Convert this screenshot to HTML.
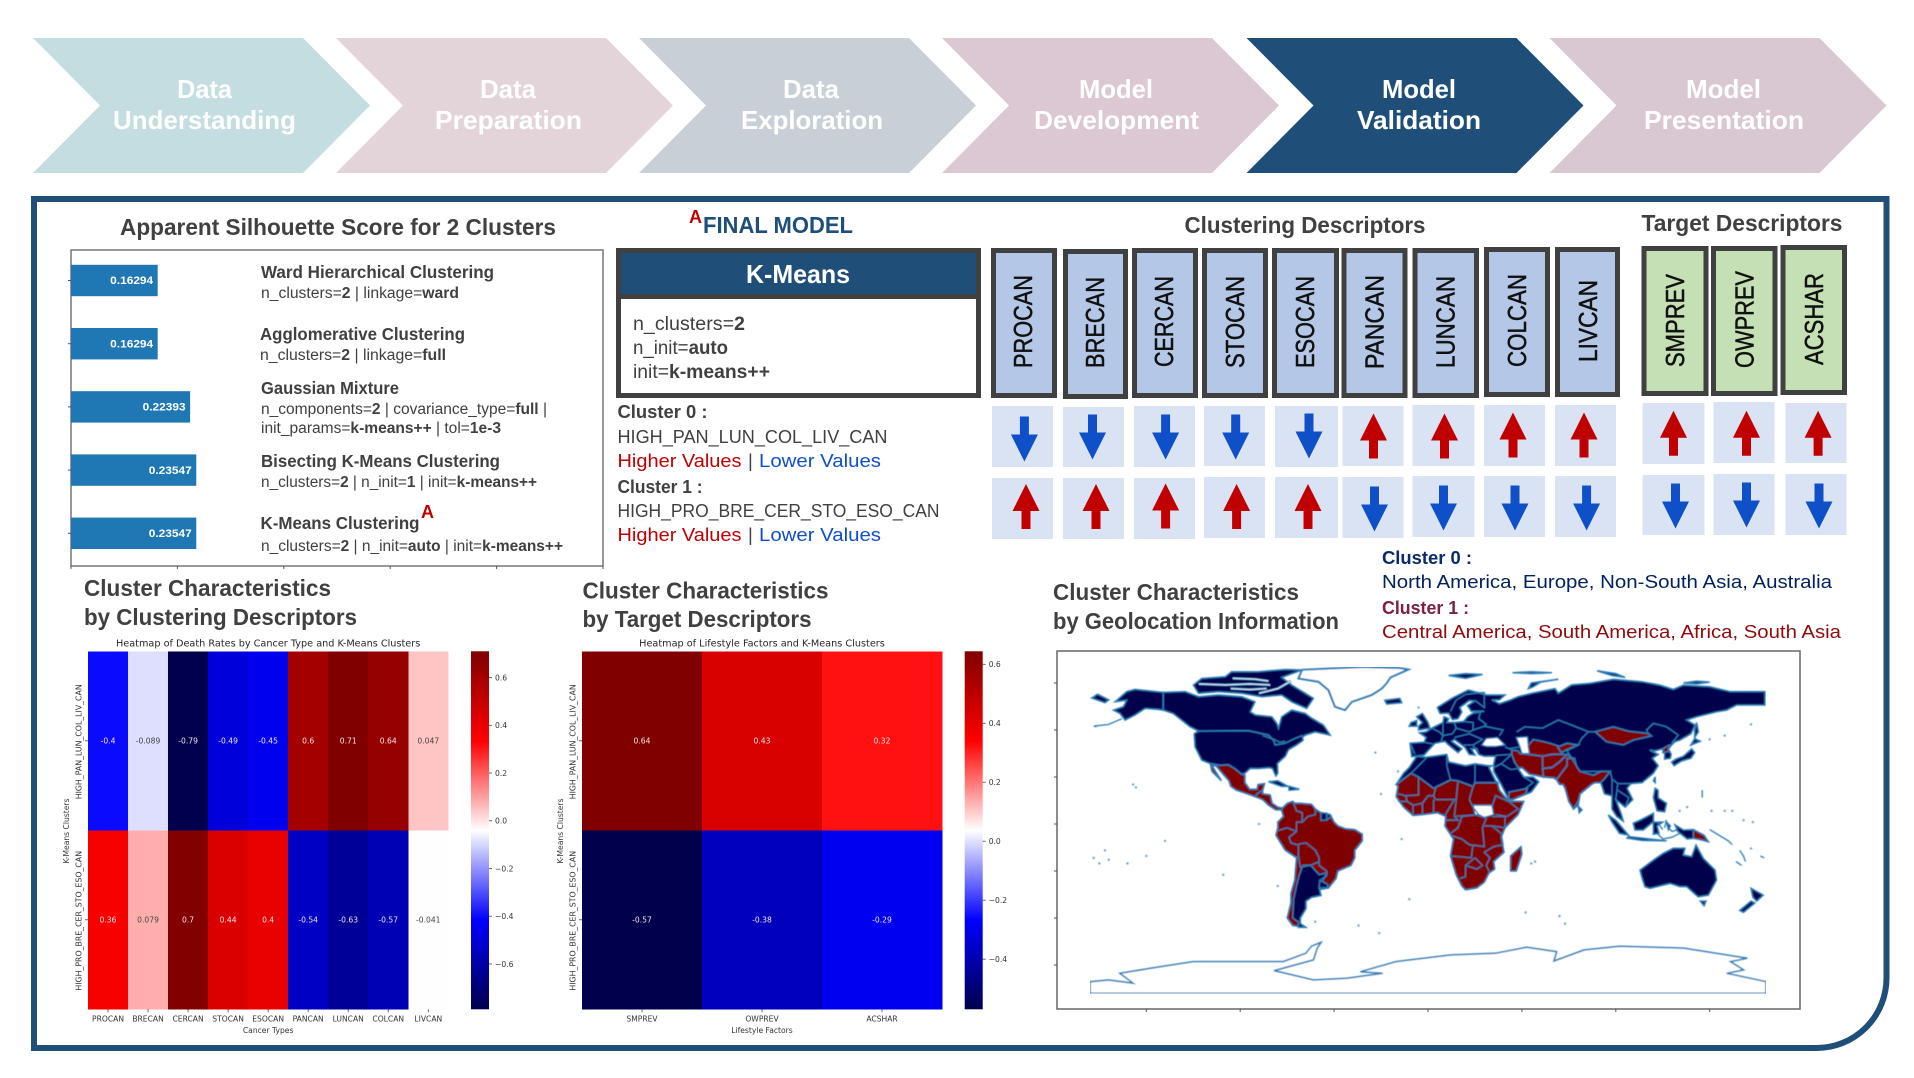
<!DOCTYPE html>
<html lang="en">
<head>
<meta charset="utf-8">
<title>K-Means Cluster Model Validation</title>
<style>
html,body{margin:0;padding:0;background:#fff;width:1914px;height:1078px;overflow:hidden}
svg{display:block}
text{font-family:"Liberation Sans",sans-serif;fill:#404040}
.b{font-weight:700}
.step{font-size:26px;font-weight:700;fill:#fff}
.h{font-size:23px;font-weight:700}
.m{font-size:17.5px;font-weight:700}
.p{font-size:15.5px}
.k{font-size:19px}
.c{font-size:18.5px}
.red{fill:#c00000}
.blue{fill:#0f4fc8}
.d{font-size:26px;fill:#111;stroke:#111;stroke-width:.5px}
.mpl{font-family:"DejaVu Sans",sans-serif}
</style>
</head>
<body>
<svg id="canvas" xmlns="http://www.w3.org/2000/svg" width="1914" height="1078" viewBox="0 0 1914 1078">
<defs>
<polygon id="arrow-down" points="-4.5,-22.5 4.5,-22.5 4.5,-4.5 13.5,-4.5 0,22.5 -13.5,-4.5 -4.5,-4.5" fill="#0f4fc8"/>
<polygon id="arrow-up" points="-4.5,22.5 4.5,22.5 4.5,4.5 13.5,4.5 0,-22.5 -13.5,4.5 -4.5,4.5" fill="#c00000"/>
<filter id="soften" x="0" y="0" width="100%" height="100%"><feGaussianBlur stdDeviation="0.55"/></filter>
</defs>

<!-- process chevrons -->
<g>
<g><polygon points="33,38 303,38 370,105.5 303,173 33,173 100,105.5" fill="#c3dde0"/>
<text class="step" x="177" y="98" textLength="55" lengthAdjust="spacingAndGlyphs">Data</text><text class="step" x="113" y="129" textLength="183" lengthAdjust="spacingAndGlyphs">Understanding</text></g>
<g><polygon points="336,38 606,38 673,105.5 606,173 336,173 403,105.5" fill="#e3d4da"/>
<text class="step" x="480" y="98" textLength="56" lengthAdjust="spacingAndGlyphs">Data</text><text class="step" x="435" y="129" textLength="147" lengthAdjust="spacingAndGlyphs">Preparation</text></g>
<g><polygon points="639,38 909,38 976,105.5 909,173 639,173 706,105.5" fill="#c9cfd6"/>
<text class="step" x="783" y="98" textLength="56" lengthAdjust="spacingAndGlyphs">Data</text><text class="step" x="741" y="129" textLength="142" lengthAdjust="spacingAndGlyphs">Exploration</text></g>
<g><polygon points="942,38 1212,38 1279,105.5 1212,173 942,173 1009,105.5" fill="#dcc8d2"/>
<text class="step" x="1079" y="98" textLength="74" lengthAdjust="spacingAndGlyphs">Model</text><text class="step" x="1034" y="129" textLength="165" lengthAdjust="spacingAndGlyphs">Development</text></g>
<g><polygon points="1246.5,38 1516.5,38 1583.5,105.5 1516.5,173 1246.5,173 1313.5,105.5" fill="#1f4e79"/>
<text class="step" x="1382" y="98" textLength="74" lengthAdjust="spacingAndGlyphs">Model</text><text class="step" x="1357" y="129" textLength="124" lengthAdjust="spacingAndGlyphs">Validation</text></g>
<g><polygon points="1549.5,38 1819.5,38 1886.5,105.5 1819.5,173 1549.5,173 1616.5,105.5" fill="#d9c8d2"/>
<text class="step" x="1686" y="98" textLength="75" lengthAdjust="spacingAndGlyphs">Model</text><text class="step" x="1644" y="129" textLength="160" lengthAdjust="spacingAndGlyphs">Presentation</text></g>
</g>

<!-- main panel -->
<path d="M34,199 H1886.5 V978 A70,70 0 0 1 1816.5,1048 H34 Z" fill="#fff" stroke="#1f4e79" stroke-width="6"/>

<!-- silhouette section -->
<text class="h" x="120" y="235" textLength="436" lengthAdjust="spacingAndGlyphs">Apparent Silhouette Score for 2 Clusters</text>
<g id="bar-chart"></g>
<g>
<text class="m" x="261" y="278" textLength="233" lengthAdjust="spacingAndGlyphs">Ward Hierarchical Clustering</text>
<text class="p" x="261" y="298" textLength="198" lengthAdjust="spacingAndGlyphs">n_clusters=<tspan class="b">2</tspan> | linkage=<tspan class="b">ward</tspan></text>
<text class="m" x="260" y="340" textLength="205" lengthAdjust="spacingAndGlyphs">Agglomerative Clustering</text>
<text class="p" x="260" y="360" textLength="186" lengthAdjust="spacingAndGlyphs">n_clusters=<tspan class="b">2</tspan> | linkage=<tspan class="b">full</tspan></text>
<text class="m" x="261" y="394" textLength="138" lengthAdjust="spacingAndGlyphs">Gaussian Mixture</text>
<text class="p" x="261" y="414" textLength="286" lengthAdjust="spacingAndGlyphs">n_components=<tspan class="b">2</tspan> | covariance_type=<tspan class="b">full</tspan> |</text>
<text class="p" x="261" y="433" textLength="240" lengthAdjust="spacingAndGlyphs">init_params=<tspan class="b">k-means++</tspan> | tol=<tspan class="b">1e-3</tspan></text>
<text class="m" x="261" y="467" textLength="239" lengthAdjust="spacingAndGlyphs">Bisecting K-Means Clustering</text>
<text class="p" x="261" y="487" textLength="276" lengthAdjust="spacingAndGlyphs">n_clusters=<tspan class="b">2</tspan> | n_init=<tspan class="b">1</tspan> | init=<tspan class="b">k-means++</tspan></text>
<text class="m" x="260.5" y="529" textLength="159" lengthAdjust="spacingAndGlyphs">K-Means Clustering</text>
<text class="red b" x="421" y="518" font-size="18" textLength="13" lengthAdjust="spacingAndGlyphs">A</text>
<text class="p" x="261" y="551" textLength="302" lengthAdjust="spacingAndGlyphs">n_clusters=<tspan class="b">2</tspan> | n_init=<tspan class="b">auto</tspan> | init=<tspan class="b">k-means++</tspan></text>
</g>

<!-- final model -->
<g>
<text class="red b" x="689" y="223" font-size="18" textLength="13" lengthAdjust="spacingAndGlyphs">A</text>
<text class="h" style="fill:#1f4e79" x="703" y="233" textLength="150" lengthAdjust="spacingAndGlyphs">FINAL MODEL</text>
<rect x="618.5" y="250.5" width="360" height="145" fill="#fff" stroke="#404040" stroke-width="5"/>
<rect x="621" y="253" width="355" height="41" fill="#1f4e79"/>
<rect x="621" y="294" width="355" height="5" fill="#404040"/>
<text class="step" x="746" y="283" textLength="104" lengthAdjust="spacingAndGlyphs">K-Means</text>
<text class="k" x="633" y="330" textLength="112" lengthAdjust="spacingAndGlyphs">n_clusters=<tspan class="b">2</tspan></text>
<text class="k" x="633" y="354" textLength="95" lengthAdjust="spacingAndGlyphs">n_init=<tspan class="b">auto</tspan></text>
<text class="k" x="633" y="378" textLength="137" lengthAdjust="spacingAndGlyphs">init=<tspan class="b">k-means++</tspan></text>
<text class="c b" x="617.5" y="418" textLength="90" lengthAdjust="spacingAndGlyphs">Cluster 0 :</text>
<text class="c" x="617.5" y="443" textLength="270" lengthAdjust="spacingAndGlyphs">HIGH_PAN_LUN_COL_LIV_CAN</text>
<text class="c red" x="617.5" y="467" textLength="124" lengthAdjust="spacingAndGlyphs">Higher Values</text><text class="c" x="748" y="467">|</text><text class="c blue" x="759" y="467" textLength="122" lengthAdjust="spacingAndGlyphs">Lower Values</text>
<text class="c b" x="617.5" y="493" textLength="85" lengthAdjust="spacingAndGlyphs">Cluster 1 :</text>
<text class="c" x="617.5" y="517" textLength="322" lengthAdjust="spacingAndGlyphs">HIGH_PRO_BRE_CER_STO_ESO_CAN</text>
<text class="c red" x="617.5" y="541" textLength="124" lengthAdjust="spacingAndGlyphs">Higher Values</text><text class="c" x="748" y="541">|</text><text class="c blue" x="759" y="541" textLength="122" lengthAdjust="spacingAndGlyphs">Lower Values</text>
</g>

<!-- descriptors -->
<g stroke="none">
<text class="h" x="1184.5" y="233" textLength="241" lengthAdjust="spacingAndGlyphs">Clustering Descriptors</text>
<g fill="#b4c7e7" stroke="#404040" stroke-width="5">
<rect x="993.5" y="250.5" width="61" height="145"/>
<rect x="1065.5" y="251.5" width="60" height="145"/>
<rect x="1134.5" y="250.5" width="61" height="145"/>
<rect x="1204.5" y="250.5" width="61" height="145"/>
<rect x="1274.5" y="250.5" width="62" height="145"/>
<rect x="1344" y="250.5" width="61" height="145"/>
<rect x="1415" y="250.5" width="61.5" height="145"/>
<rect x="1486.5" y="249.5" width="61" height="145"/>
<rect x="1557.5" y="249.5" width="60" height="145"/>
</g>
<g class="names">
<text class="d" transform="translate(1032,368) rotate(-90)" textLength="93" lengthAdjust="spacingAndGlyphs">PROCAN</text>
<text class="d" transform="translate(1104,368) rotate(-90)" textLength="91" lengthAdjust="spacingAndGlyphs">BRECAN</text>
<text class="d" transform="translate(1173,367) rotate(-90)" textLength="91" lengthAdjust="spacingAndGlyphs">CERCAN</text>
<text class="d" transform="translate(1244,368) rotate(-90)" textLength="92" lengthAdjust="spacingAndGlyphs">STOCAN</text>
<text class="d" transform="translate(1314,368) rotate(-90)" textLength="92" lengthAdjust="spacingAndGlyphs">ESOCAN</text>
<text class="d" transform="translate(1383.5,369) rotate(-90)" textLength="94" lengthAdjust="spacingAndGlyphs">PANCAN</text>
<text class="d" transform="translate(1454.5,368) rotate(-90)" textLength="92" lengthAdjust="spacingAndGlyphs">LUNCAN</text>
<text class="d" transform="translate(1526,367) rotate(-90)" textLength="93" lengthAdjust="spacingAndGlyphs">COLCAN</text>
<text class="d" transform="translate(1597,362) rotate(-90)" textLength="82" lengthAdjust="spacingAndGlyphs">LIVCAN</text>
</g>
<g fill="#dae3f3">
<rect x="992" y="406" width="61" height="61"/><rect x="1063" y="407" width="61" height="60"/><rect x="1134" y="406" width="61" height="61"/><rect x="1204" y="406" width="61" height="60"/><rect x="1275" y="406" width="63" height="61"/><rect x="1342.5" y="406" width="61" height="60"/><rect x="1412.5" y="405" width="62" height="61"/><rect x="1484" y="405" width="61" height="61"/><rect x="1555" y="405" width="61" height="61"/>
<rect x="992" y="478" width="61" height="61"/><rect x="1063" y="478" width="61" height="61"/><rect x="1134" y="478" width="61" height="61"/><rect x="1204" y="477" width="61" height="61"/><rect x="1275" y="477" width="63" height="61"/><rect x="1342.5" y="477" width="61" height="61"/><rect x="1412.5" y="476" width="62" height="61"/><rect x="1484" y="476" width="61" height="61"/><rect x="1555" y="476" width="61" height="61"/>
</g>
<g>
<use href="#arrow-down" x="1024.4" y="439"/><use href="#arrow-down" x="1092.5" y="437"/><use href="#arrow-down" x="1165.6" y="437"/><use href="#arrow-down" x="1235.7" y="437"/><use href="#arrow-down" x="1309" y="436"/><use href="#arrow-up" x="1373.5" y="436"/><use href="#arrow-up" x="1444.5" y="436"/><use href="#arrow-up" x="1513" y="435"/><use href="#arrow-up" x="1584" y="435"/>
</g>
<g>
<use href="#arrow-up" x="1026" y="506.5"/><use href="#arrow-up" x="1096" y="506.5"/><use href="#arrow-up" x="1165.6" y="506"/><use href="#arrow-up" x="1236.6" y="506.5"/><use href="#arrow-up" x="1308" y="506.5"/><use href="#arrow-down" x="1374.5" y="509"/><use href="#arrow-down" x="1443.5" y="508"/><use href="#arrow-down" x="1515" y="508"/><use href="#arrow-down" x="1586.6" y="508"/>
</g>
</g>

<g transform="translate(-2.5,0)">
<text class="h" x="1644" y="231" textLength="201" lengthAdjust="spacingAndGlyphs">Target Descriptors</text>
<g fill="#c5e0b4" stroke="#404040" stroke-width="5">
<rect x="1646.5" y="248.5" width="62" height="145"/>
<rect x="1716" y="248.5" width="61.5" height="145"/>
<rect x="1785.5" y="247.5" width="61.5" height="145"/>
</g>
<text class="d" transform="translate(1686.5,367) rotate(-90)" textLength="93" lengthAdjust="spacingAndGlyphs">SMPREV</text>
<text class="d" transform="translate(1756,368) rotate(-90)" textLength="97" lengthAdjust="spacingAndGlyphs">OWPREV</text>
<text class="d" transform="translate(1825.6,365) rotate(-90)" textLength="92" lengthAdjust="spacingAndGlyphs">ACSHAR</text>
<g fill="#dae3f3">
<rect x="1645" y="403" width="62" height="61"/><rect x="1716" y="402" width="61" height="61"/><rect x="1788" y="403" width="61" height="60"/>
<rect x="1645" y="475" width="62" height="60"/><rect x="1716" y="474" width="61" height="61"/><rect x="1788" y="474" width="61" height="61"/>
</g>
<use href="#arrow-up" x="1676" y="433.3"/><use href="#arrow-up" x="1749" y="433.3"/><use href="#arrow-up" x="1820.6" y="433.3"/>
<use href="#arrow-down" x="1678" y="506"/><use href="#arrow-down" x="1749" y="505"/><use href="#arrow-down" x="1821.5" y="506"/>
</g>

<!-- heatmap section headings -->
<g>
<text class="h" x="84" y="596" textLength="247" lengthAdjust="spacingAndGlyphs">Cluster Characteristics</text>
<text class="h" x="84" y="625" textLength="273" lengthAdjust="spacingAndGlyphs">by Clustering Descriptors</text>
<text class="h" x="582.5" y="598.5" textLength="246" lengthAdjust="spacingAndGlyphs">Cluster Characteristics</text>
<text class="h" x="582.5" y="627" textLength="229" lengthAdjust="spacingAndGlyphs">by Target Descriptors</text>
<text class="h" x="1053" y="600" textLength="246" lengthAdjust="spacingAndGlyphs">Cluster Characteristics</text>
<text class="h" x="1053" y="629" textLength="286" lengthAdjust="spacingAndGlyphs">by Geolocation Information</text>
</g>
<g>
<text class="c b" style="fill:#0b2a6b" x="1382" y="564" textLength="90" lengthAdjust="spacingAndGlyphs">Cluster 0 :</text>
<text class="c" style="fill:#00205f" x="1382" y="588" textLength="450" lengthAdjust="spacingAndGlyphs">North America, Europe, Non-South Asia, Australia</text>
<text class="c b" style="fill:#7b2148" x="1382" y="614" textLength="87" lengthAdjust="spacingAndGlyphs">Cluster 1 :</text>
<text class="c" style="fill:#8f0b0b" x="1382" y="638" textLength="459" lengthAdjust="spacingAndGlyphs">Central America, South America, Africa, South Asia</text>
</g>

<g id="heatmap-cancer"></g>
<g id="heatmap-lifestyle"></g>
<g id="world-map"></g>
</svg>

<script>
/* ---------- silhouette bars ---------- */
const barMethods = ["Ward Hierarchical", "Agglomerative", "Gaussian Mixture", "Bisecting K-Means", "K-Means"];
const barScores = [0.16294, 0.16294, 0.22393, 0.23547, 0.23547];
const barTicks = [0, 0.2, 0.4, 0.6, 0.8, 1.0];

/* ---------- heatmap data ---------- */
const cancerTypes = ["PROCAN","BRECAN","CERCAN","STOCAN","ESOCAN","PANCAN","LUNCAN","COLCAN","LIVCAN"];
const clusterNames = ["HIGH_PAN_LUN_COL_LIV_CAN","HIGH_PRO_BRE_CER_STO_ESO_CAN"];
const cancerCluster0 = [-0.4,-0.089,-0.79,-0.49,-0.45,0.6,0.71,0.64,0.047];
const cancerCluster1 = [0.36,0.079,0.7,0.44,0.4,-0.54,-0.63,-0.57,-0.041];
const cancerTicks = [0.6,0.4,0.2,0,-0.2,-0.4,-0.6];
const lifestyleFactors = ["SMPREV","OWPREV","ACSHAR"];
const lifestyleCluster0 = [0.644,0.43,0.32];
const lifestyleCluster1 = [-0.57,-0.38,-0.29];
const lifestyleTicks = [0.6,0.4,0.2,0,-0.2,-0.4];

/* ---------- map data: [longitude, latitude] outlines ---------- */
const mapLonTicks = [-150,-100,-50,0,50,100,150];
const mapLatTicks = [75,50,25,0,-25,-50,-75];
const antarctica = [[-180,-83.9],[-170,-83],[-157,-84.7],[-164,-79.4],[-148,-76.8],[-125,-73.2],[-104,-73.2],[-77,-73.2],[-65,-68.8],[-62,-65],[-57,-63],[-59,-66],[-61,-72.3],[-82,-78],[-61,-83],[-43,-82],[-24,-79.4],[-36,-78.6],[-17,-73.2],[12,-69.7],[36,-68.8],[52.5,-65.6],[68.5,-67.9],[67,-72.9],[83,-67],[102,-65],[136,-66],[170,-71.4],[161,-73.2],[168,-77.6],[159,-79.4],[180,-83.9],[180,-90],[-180,-90]];
const greenland = [[-69,77.4],[-67,82],[-35,83.5],[-15,83],[-10.5,82.2],[-20,78],[-22,75],[-24.6,72.1],[-30,68.6],[-40.6,65],[-44.2,60.6],[-49.5,62.4],[-53,71.2],[-58.3,75.7]];
const cluster0Land = [
 [[-166.6,65],[-160.4,70.4],[-156,71.6],[-141,70],[-141,60.6],[-144.4,61],[-150.6,61.5],[-156,58],[-161.3,55.3],[-164,58.8],[-167.5,60.6],[-162.2,62.4],[-160.4,65.9]],
 [[-141,70],[-129.4,70.4],[-122.2,67.7],[-111.6,68.6],[-99.2,67.7],[-92.1,65],[-94.7,59.7],[-92,58],[-83.2,57],[-80.5,53.5],[-79.6,50.9],[-77.9,57],[-72.6,60.6],[-65.4,58.8],[-61.9,56.2],[-55.7,52.6],[-52.1,47.3],[-60.1,49],[-65.4,47.3],[-69,44.6],[-76.1,42.9],[-81.4,42],[-82.3,44.6],[-85,47.3],[-95.6,49.6],[-122.2,49.4],[-126.7,51.7],[-135.6,58.8],[-141,60.6]],
 [[-122.2,49.4],[-95.6,49.6],[-85,47.3],[-82.3,44.6],[-81.4,42],[-76.1,42.9],[-71,45.5],[-67,47],[-66.5,44.5],[-70,42],[-74.3,39.5],[-76,36],[-80.2,32.2],[-80,27],[-81,25.5],[-82.8,29.5],[-84.5,30],[-90,29.5],[-94.7,29.6],[-97.5,27],[-99.2,26.5],[-103,29.5],[-106.3,31.5],[-111,31.3],[-116,32.2],[-120.5,34],[-124,41],[-124.5,48]],
 [[-124.9,73.9],[-120.5,77.4],[-108,78.3],[-104.5,81],[-90.3,81],[-76.1,82.2],[-67.2,81.9],[-77.9,78],[-72.6,73.9],[-65.4,69.5],[-61,66.8],[-64.6,61.5],[-72.6,65],[-77.9,68.6],[-88.5,67.7],[-99.2,69.5],[-111.6,70.4],[-122.2,69.5]],
 [[-179,67],[-172,64.5],[-170,66],[-176,69]],
 [[-85,22.5],[-80,23],[-74.5,20],[-78,20]],
 [[-74,20],[-68.5,18.5],[-74,18]],
 [[-9.6,42.9],[-2,43.5],[-1,46],[-4.5,48.5],[-1,49],[2,51],[8,54],[8.5,57],[11,56],[10,54],[14,54],[19,54.5],[21,57],[24,59],[30,60],[23,60],[21,63],[25,65.5],[22,65.7],[17,62],[18,59.5],[16,56],[13,55.5],[11,59],[6.4,58.8],[5,62],[13,67],[21.5,71.2],[31.2,68.6],[41,68.6],[38,66],[34,66],[38,64],[44,66],[48,67.7],[55.2,69.5],[67.6,72],[69.4,69.5],[76.5,74],[86.2,74.8],[98.7,77],[113.8,75.7],[123.5,73.9],[130.6,71.6],[136,73.9],[150,73],[160.8,70.4],[179.4,70.4],[179.4,63.3],[164.4,63.3],[159,60.6],[153.7,59.7],[143,57],[137.7,55.3],[142.2,52.6],[140,48],[134,44.6],[131.5,43.8],[129.7,42],[128,40],[129.5,37],[129,35],[126,34.5],[126,38],[125,40],[121,39],[118,39.3],[122.6,37],[119.5,35],[122.6,31],[120,27],[114,22],[108,21.5],[106,19],[109,13],[105,9],[100,13],[103,5],[104,1.5],[100.5,4],[98,8],[98,15],[94,16],[92,22],[88,22],[81,16],[80,10],[77.5,8],[73,19],[72,21],[67,24.5],[62,25],[57,26],[56,27],[50,30],[48,29.5],[51,25],[56,25],[59,22.5],[55,17],[45,13],[43,13],[39,21],[35,28],[35,32],[36,36],[30,36],[27,37],[26,40],[23,40],[25,36.7],[22,37],[19.5,41],[14,45],[12.5,44],[18,40],[16,38],[11,42],[9,44],[3.7,42.9],[0,39],[-2,36.7],[-8.7,35.8]],
 [[-17,21],[-13,27],[-10,30],[-6,36],[-1,35.5],[10,37],[11,33],[20,31],[25,32],[32,31],[34,31],[32.5,30],[36,23],[37,22],[25,22],[24,20],[16,23],[12,23.5],[3,19],[-5,25],[-9,27],[-13,24]],
 [[-5,50],[1,51],[0,54],[-3,58.8],[-6,57],[-3,54],[-5,52]],
 [[-10,52],[-6,52],[-6,55],[-9,54]],
 [[-23,65.8],[-15,66.8],[-14,64.5],[-22,63.8]],
 [[11,79],[20,80],[29,79.5],[20,77.5]],
 [[45,80.5],[55,81],[66,80.5],[55,80]],
 [[53.4,72],[55,75],[69.4,77],[60,75.5],[56,73]],
 [[90,81.5],[100,80],[105,78],[98,79]],
 [[136,75],[143,76],[150,75.5],[143,74.5]],
 [[142,46],[144,49],[143,54],[142,50]],
 [[129.7,33],[132,34.5],[136,36],[140.4,40],[142,38],[140,35],[135,33.5],[131,31]],
 [[140,42],[145,44],[142,45.5]],
 [[120.9,19],[122.5,18],[122.5,14],[127,11],[126,6.5],[122,7],[120,14]],
 [[121,25],[120,23],[121,22]],
 [[96,4.8],[100,2],[106.7,-5.9],[102,-5],[98,1]],
 [[106.7,-6.7],[114,-7.5],[127,-9],[114,-8.7],[106,-7.5]],
 [[109.3,.4],[113,2],[120,5.7],[120,1.2],[114.6,-3.2],[110.2,-3.2]],
 [[120,1],[125,1],[122,-1],[123,-5],[120,-5.5]],
 [[127,1],[129,-1],[128,-3]],
 [[131.5,-.5],[136,-3.2],[141.3,-3],[141.3,-7.6],[138,-8],[133,-4]],
 [[112.9,-24.5],[120,-19.2],[125.3,-15.6],[130.6,-12.9],[136.8,-12.9],[135.9,-16.5],[140.4,-17.4],[142.7,-11.2],[146.6,-18.3],[152.8,-24.5],[153.7,-29.8],[149.3,-37.8],[143.9,-38.7],[137.7,-33.3],[134.2,-33.3],[128.9,-31.6],[118.2,-34.2],[115.5,-33.3],[113.8,-28]],
 [[145,-41],[148,-41],[147,-43.5]],
 [[172,-34.2],[178.5,-37.8],[175,-41],[173,-39]],
 [[172,-41],[174,-42],[168,-47],[166,-46]]
];
const cluster1Land = [
 [[-116,32.2],[-111,31.3],[-106.3,31.5],[-103,29.5],[-99.2,26.5],[-97.5,26],[-97.5,22],[-95,18.5],[-91,18.5],[-90.5,21],[-87,21.5],[-88,18],[-91,16],[-92,14.5],[-96,16],[-102,18],[-105,20],[-106,23],[-110,27.5],[-113,31],[-115,31],[-110,23],[-115,28]],
 [[-92,14.5],[-91,16],[-88,18],[-88,16],[-84,15.5],[-83,11],[-80,9],[-77.5,8.5],[-78,7.5],[-81,7.5],[-85,10],[-88,13]],
 [[-77.5,8.5],[-75,11],[-72,12],[-71,11],[-68,11],[-62,10.5],[-60,8],[-57,6],[-52,5],[-50,1],[-48,-1],[-44,-2.5],[-39,-3],[-35,-5.5],[-35,-9],[-39,-14],[-39,-18],[-41,-22],[-48,-25],[-49,-29],[-53,-34],[-58,-35],[-57,-38],[-62,-39],[-65,-41],[-65,-45],[-68,-50],[-68,-53],[-65,-55],[-72,-54],[-75,-50],[-73,-42],[-73,-37],[-71,-30],[-70,-18],[-76,-14],[-81,-6],[-80,-2],[-80,1],[-77,4],[-78,7.5]],
 [[-17,21],[-13,24],[-9,27],[-5,25],[3,19],[12,23.5],[16,23],[24,20],[25,22],[37,22],[38,18],[43,12],[51,12],[48,5],[41,-2],[39,-7],[40.5,-15],[35,-20],[35.5,-24],[32.5,-26],[30,-31],[26,-34],[20,-35],[18,-33],[15,-27],[12,-17],[13.5,-8],[9,-1],[9.5,4],[5,6],[-3,5],[-8,4.5],[-13,9],[-17,14.5],[-16,20]],
 [[49.5,-12],[50,-16],[47,-25],[44,-25],[44,-17]],
 [[44.5,39.5],[48,39],[49,37.5],[54,37],[61,36.5],[61,31],[63,27],[61.5,25],[57,26],[54,26.5],[50,30],[48,30],[46,33],[44.5,37]],
 [[53,41.5],[56,45],[61,44],[65,43],[71,41],[73,40],[71,37],[66,37],[61,36],[54,37]],
 [[69,41],[74,43],[80,42],[74,39.5],[71,38]],
 [[61,36],[66,37],[71,37],[74,37],[70,33],[66,30],[61,29.5],[61,33]],
 [[61,29.5],[66,30],[70,33],[74,37],[77,35],[74,31],[71,27],[70,24],[67,24.5],[61.5,25]],
 [[74,35],[78,35],[79,31],[81,28],[88,26],[92,28],[97,28],[94,24],[92,22],[89,22],[87,21],[81,16],[80,12],[77.5,8],[75,12],[73,19],[72,21],[70,21],[68.5,23.5],[71,27],[74,31]],
 [[88.9,49.1],[98.7,51.7],[106.7,49.4],[117.3,48.2],[119,46.8],[109.3,44.6],[104,42],[95,43.8]],
 [[125.3,40.2],[128,41.8],[129.7,42],[128,40],[128,38.5],[125,38]],
 [[43,13],[45,13],[52,16],[53,19],[48,18],[43,17]],
 [[80,9.5],[82,7.5],[80.5,6]],
 [[141.3,-3],[147,-6],[149.3,-9.4],[146,-8.5],[141.3,-7.6]]
];
const cluster0Overlay = [
 [[-65.5,-22],[-62.5,-22],[-58,-27],[-54,-26],[-58,-34],[-57,-38],[-62,-39],[-65,-41],[-65,-45],[-68,-50],[-68,-53],[-65,-55],[-69,-55],[-69,-52],[-72,-50],[-71.5,-40],[-70,-33],[-68.5,-27],[-66.5,-22]],
 [[-58,-34],[-53.5,-34],[-53.5,-32],[-57.6,-30]],
 [[-54,5.7],[-52,4.8],[-51.6,4],[-54,2.2]],
 [[-57,6],[-54,5.7],[-54,2.2],[-57,2]]
];
const noDataRegions = [
 [[24,10],[34,10],[35,5],[30,3.5],[25,5]],
 [[47,46],[53,46.4],[53.4,41],[54,37.5],[50,37.5],[49,41]],
 [[28.6,42],[31,45.5],[37,46],[41,42],[36,41.3],[31,41.3]]
];
const arcticChannels = [
 [[-122,74.5],[-108,74],[-95,74.5],[-84,74]],
 [[-105,72],[-95,71.5],[-86,72]],
 [[-104,77.5],[-92,77],[-85,76]],
 [[-90,69.5],[-80,72],[-73,76]]
];
const borderLines = [
 [[-141,60.6],[-141,70]],[[-72,12],[-70,7],[-67,6],[-67,1]],[[-178,52],[-170,53],[-163,56]],[[-88,47],[-82,45],[-79,43.5],[-76,44]],
 [[-60,8],[-60,5],[-64,4],[-67,1],[-70,1],[-70,-4],[-74,-7],[-73,-10],[-70,-11],[-65,-10],[-60,-14],[-58,-18],[-58,-22],[-54,-25],[-54,-27.5],[-57.6,-30]],
 [[-80,-3.5],[-75,-2],[-70,-4]],[[-69,-11],[-69,-17],[-70,-18]],[[-69,-17],[-68,-23],[-62.5,-22],[-58,-20]],
 [[47.2,49],[51.6,51.7],[61,51],[69.4,55.3],[76.5,52.6],[85.4,49.1],[88.9,49]],
 [[85.4,49.1],[81.8,45.5],[80,42],[74,39],[79,31],[81,28],[88,28],[97,28],[98,24],[101,21.5],[108,21.5]],
 [[117.3,48.2],[116.4,50],[120,53.5],[127,51.7],[133.3,47.3],[129.7,42.9]],[[98,24],[98,15]],[[101,21.5],[100,13]],[[105,9],[107,14],[101,18]],
 [[-2,43.5],[3,42.5]],[[-9,42],[-7,37]],[[2,51],[6,49],[8,47],[7,44]],[[14,54],[15,51],[13,48],[8,47]],
 [[19,54.5],[24,54],[24,50],[22,49],[15,51]],[[24,50],[30,52],[40,50],[38,47]],[[14,46],[22,48],[29,45],[24,42],[19,42]],
 [[20,69],[30,70],[30,62],[25,65.7]],[[12,60],[15,66],[20,69]],[[28,60],[27,56],[31,53],[30,52]],[[8,54],[8,47]],[[24,42],[27,37]],
 [[36,36.5],[44.5,37],[44.5,39.5],[41,41]],[[48,29.5],[44,29],[39,32],[35,30]],[[44.5,37],[39,32]],[[51,25],[56,22],[52,19]],[[43,40],[49,41],[47,46]],
 [[25,32],[25,22]],[[10,31],[12,23.5]],[[-1,35],[-9,27]],[[10,37],[10,31]],
 [[-12,15],[-5,15.5],[-5,25]],[[4,19],[3,15],[0,15],[-3,11],[-8,10],[-11,12],[-12,15]],[[16,23],[15,13],[4,13],[3,15]],
 [[24,20],[22,13],[24,9],[27,5]],[[3,6],[3,13]],[[14,13],[9,4.5]],[[15,13],[14,4],[16,2],[9,2]],[[14,4],[27,5]],
 [[-3,5],[-3,11]],[[-8,4.5],[-8,10]],[[-16,12],[-11,12]],[[-16,16],[-12,15]],
 [[12,-6],[18,-8],[22,-11],[30,-12],[29,-2],[31,3],[27,5],[18,4],[16,-2],[12,-5]],
 [[12,-17],[23,-18],[24,-11]],[[17,-29],[20,-28],[20,-22],[25,-18]],[[20,-22],[26,-24],[29,-22],[25,-18]],
 [[33,-26],[31,-22],[33,-18],[30,-15],[35,-12],[40,-11]],[[30,-1],[34,-1],[39,-5],[40,-11]],[[34,4],[41,4],[41,-2],[34,-1]],
 [[34,9],[36,15],[43,12],[48,8],[42,4],[36,5]],
 [[150,-3],[155,-6],[160,-9],[162,-11]],[[166,-14],[168,-17],[169,-20]],[[164,-20],[167,-22]],[[177,-17],[179,-18]],
 [[122,-5],[125,-8],[130,-7],[134,-5]],[[122,1],[125,-3]],[[127,2],[126,-2]],[[128,-2],[130,-4],[133,-3]],[[146,18],[146,14]]
];
const smallIslands = [[-157,21],[-155.5,19.5],[-172,-14],[-170,-19],[-178,-18],[-175,-21],[-160,-21],[-150,-17],[-140,-9],[-90,0],[-109,-27],[-80,-33],[-60,-52],[-37,-54],[-26,-58],[-16,28],[-25,16],[-28,38],[-14,-8],[-10,-40],[57,-20],[55,-21],[70,-49],[52,-47],[73,-53],[134,7],[138,9],[151,7],[158,7],[162,7],[168,2],[173,1],[172,-13],[-177,52],[172,53],[158,47],[150,45],[-5,62]];

/* ---------- helpers ---------- */
const NS = "http://www.w3.org/2000/svg";
function mk(parent, tag, attrs, txt) {
  const el = document.createElementNS(NS, tag);
  for (const k in attrs) el.setAttribute(k, attrs[k]);
  if (txt !== undefined) el.textContent = txt;
  parent.appendChild(el);
  return el;
}

/* seismic colormap */
function seismic(t) {
  t = Math.max(0, Math.min(1, t));
  const stops = [[0,0,0,76.5],[0.25,0,0,255],[0.5,255,255,255],[0.75,255,0,0],[1,127.5,0,0]];
  for (let i = 0; i < 4; i++) {
    const a = stops[i], b = stops[i+1];
    if (t <= b[0]) {
      const f = (t - a[0]) / (b[0] - a[0]);
      const c = [1,2,3].map(j => Math.round(a[j] + (b[j]-a[j]) * f));
      return "rgb(" + c.join(",") + ")";
    }
  }
  return "rgb(127,0,0)";
}

/* ---------- bar chart ---------- */
(function () {
  const g = document.getElementById("bar-chart");
  const left = 71, right = 603, top = 250, bottom = 566;
  const xScale = v => left + v * (right - left);
  const yScale = i => top + 30.5 + i * 63.2;
  const frame = mk(g, "rect", {x:left, y:top, width:right-left, height:bottom-top, fill:"#fff", stroke:"#777", "stroke-width":1.5});
  
  
  barTicks.forEach(t => {
    const tick = mk(g, "line", {x1:xScale(t), x2:xScale(t), y1:bottom, y2:bottom+3, stroke:"#555", "stroke-width":1});
    
    
  });
  barScores.forEach((v, i) => {
    const bar = mk(g, "rect", {x:left, y:yScale(i)-15.7, width:xScale(v)-left, height:31.4, fill:"#1f77b4"});
    
    
    mk(bar, "title", {}, barMethods[i]);
    const ytick = mk(g, "line", {x1:left-3, x2:left, y1:yScale(i), y2:yScale(i), stroke:"#555", "stroke-width":1});
    
    
    const lab = mk(g, "text", {x:xScale(v)-47.5, y:yScale(i)+3.7, textLength:43, lengthAdjust:"spacingAndGlyphs", "font-size":11, "font-weight":700, style:"fill:#fff"}, v.toFixed(5));
    
    
  });
})();

/* ---------- heatmaps ---------- */
function drawHeatmap(g, cfg) {
  const rows = cfg.rows, cols = cfg.cols;
  const all = rows.flat();
  const vmin = Math.min.apply(null, all), vmax = Math.max.apply(null, all);
  const norm = v => (v - vmin) / (vmax - vmin);
  const x0 = cfg.left, x1 = cfg.right, y0 = 651.3, y1 = 1009.3;
  const xScale = i => x0 + i * (x1 - x0) / cols.length;
  const yScale = i => y0 + i * (y1 - y0) / rows.length;
  const cbY = v => y1 - norm(v) * (y1 - y0);

  const title = mk(g, "text", {x:(x0+x1)/2, y:646.5, "text-anchor":"middle", "font-size":9.7, class:"mpl", style:"fill:#262626"}, cfg.title);
  
  

  rows.forEach((row, r) => {
    row.forEach((v, c) => {
      const cell = mk(g, "rect", {x:xScale(c), y:yScale(r), width:xScale(c+1)-xScale(c)+0.4, height:yScale(r+1)-yScale(r)+0.4, fill:seismic(norm(v)), "shape-rendering":"crispEdges"});
      
      
      const light = Math.abs(norm(v) - 0.5) < 0.22;
      const label = mk(g, "text", {x:(xScale(c)+xScale(c+1))/2, y:(yScale(r)+yScale(r+1))/2+2.7, "text-anchor":"middle", "font-size":7.6, class:"mpl", style:"fill:" + (light ? "#444" : "#f2e6e6")}, String(Number(v.toPrecision(2))));
      
      
    });
  });

  cols.forEach((name, c) => {
    const cx = (xScale(c)+xScale(c+1))/2;
    const tick = mk(g, "line", {x1:cx, x2:cx, y1:y1, y2:y1+3, stroke:"#444", "stroke-width":0.8});
    
    
    const lab = mk(g, "text", {x:cx, y:1021.5, "text-anchor":"middle", "font-size":7.6, class:"mpl", style:"fill:#333"}, name);
    
    
  });
  clusterNames.forEach((name, r) => {
    const cy = (yScale(r)+yScale(r+1))/2;
    const tick = mk(g, "line", {x1:x0-3, x2:x0, y1:cy, y2:cy, stroke:"#444", "stroke-width":0.8});
    
    
    const lab = mk(g, "text", {transform:"translate(" + (x0-6.5) + "," + (cy+1) + ") rotate(-90)", "text-anchor":"middle", "font-size":7.8, class:"mpl", style:"fill:#333"}, name);
    
    
  });
  const xl = mk(g, "text", {x:(x0+x1)/2, y:1033, "text-anchor":"middle", "font-size":7.6, class:"mpl", style:"fill:#333"}, cfg.xlabel);
  
  
  const yl = mk(g, "text", {transform:"translate(" + (x0-19) + ",831) rotate(-90)", "text-anchor":"middle", "font-size":7.6, class:"mpl", style:"fill:#333"}, "K-Means Clusters");
  
  

  /* colour bar */
  const defs = mk(g, "defs", {});
  const grad = mk(defs, "linearGradient", {id:cfg.id, x1:0, y1:1, x2:0, y2:0});
  [0,0.25,0.5,0.75,1].forEach(s => mk(grad, "stop", {offset:s, "stop-color":seismic(s)}));
  const bar = mk(g, "rect", {x:cfg.cbLeft, y:y0, width:18, height:y1-y0, fill:"url(#" + cfg.id + ")"});
  
  
  cfg.ticks.forEach(t => {
    const tick = mk(g, "line", {x1:cfg.cbLeft+18, x2:cfg.cbLeft+21, y1:cbY(t), y2:cbY(t), stroke:"#444", "stroke-width":0.8});
    
    
    const lab = mk(g, "text", {x:cfg.cbLeft+24, y:cbY(t)+2.8, "font-size":7.6, class:"mpl", style:"fill:#333"}, (t < 0 ? "\u2212" : "") + Math.abs(t).toFixed(1));
    
    
  });
}
drawHeatmap(document.getElementById("heatmap-cancer"), {id:"cb-cancer", title:"Heatmap of Death Rates by Cancer Type and K-Means Clusters", xlabel:"Cancer Types", rows:[cancerCluster0, cancerCluster1], cols:cancerTypes, ticks:cancerTicks, left:88, right:448.3, cbLeft:471});
drawHeatmap(document.getElementById("heatmap-lifestyle"), {id:"cb-life", title:"Heatmap of Lifestyle Factors and K-Means Clusters", xlabel:"Lifestyle Factors", rows:[lifestyleCluster0, lifestyleCluster1], cols:lifestyleFactors, ticks:lifestyleTicks, left:582, right:942, cbLeft:964.7});

/* ---------- map ---------- */
(function () {
  const root = document.getElementById("world-map");
  const lonX = lon => 1428 + lon * 1.878;
  const latY = lat => 824 - lat * 1.88;
  const pts = poly => poly.map(p => lonX(p[0]).toFixed(1) + "," + latY(p[1]).toFixed(1)).join(" ");
  const STROKE = "#2a7ab5";
  const frame = mk(root, "rect", {x:1057, y:651, width:743, height:358, fill:"#fff", stroke:"#666", "stroke-width":1.5});
  
  
  mapLonTicks.forEach(t => {
    const tick = mk(root, "line", {x1:lonX(t), x2:lonX(t), y1:1009, y2:1012, stroke:"#555", "stroke-width":1});
    
    
  });
  mapLatTicks.forEach(t => {
    const tick = mk(root, "line", {x1:1054, x2:1057, y1:latY(t), y2:latY(t), stroke:"#555", "stroke-width":1});
    
    
  });
  const g = mk(root, "g", {filter:"url(#soften)"});
  
  
  const ant = mk(g, "polygon", {points:pts(antarctica), fill:"#fff", stroke:STROKE, "stroke-width":1.5});
  
  
  const gr = mk(g, "polygon", {points:pts(greenland), fill:"#fff", stroke:STROKE, "stroke-width":2});
  
  
  cluster0Land.forEach(poly => {
    const el = mk(g, "polygon", {points:pts(poly), fill:"#00004c", stroke:STROKE, "stroke-width":1.5});
    
    
  });
  cluster1Land.forEach(poly => {
    const el = mk(g, "polygon", {points:pts(poly), fill:"#7f0000", stroke:STROKE, "stroke-width":1.5});
    
    
  });
  cluster0Overlay.forEach(poly => {
    const el = mk(g, "polygon", {points:pts(poly), fill:"#00004c", stroke:STROKE, "stroke-width":1.5});
    
    
  });
  noDataRegions.forEach(poly => {
    const el = mk(g, "polygon", {points:pts(poly), fill:"#fff", stroke:STROKE, "stroke-width":1.3});
    
    
  });
  arcticChannels.forEach(line => {
    const el = mk(g, "polyline", {points:pts(line), fill:"none", stroke:STROKE, "stroke-width":2.6});
    
    
    const inner = mk(g, "polyline", {points:pts(line), fill:"none", stroke:"#fff", "stroke-width":0.9});
    
    
  });
  borderLines.forEach(line => {
    const el = mk(g, "polyline", {points:pts(line), fill:"none", stroke:STROKE, "stroke-width":1.3});
    
    
  });
  smallIslands.forEach(p => {
    const el = mk(g, "circle", {cx:lonX(p[0]), cy:latY(p[1]), r:1.1, fill:STROKE, opacity:0.8});
    
    
  });
})();
</script>
</body>
</html>
